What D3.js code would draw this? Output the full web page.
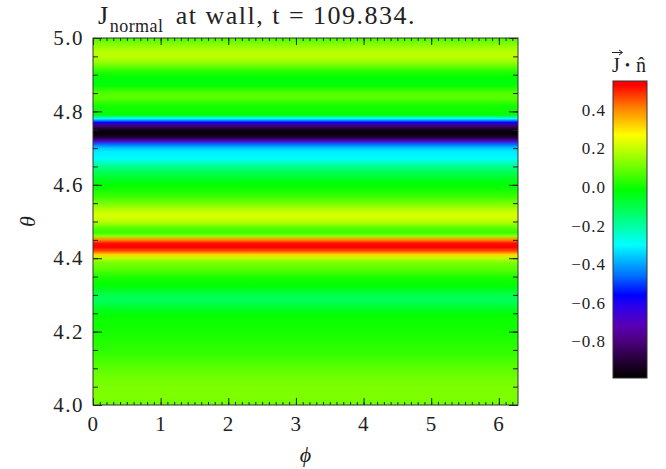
<!DOCTYPE html>
<html>
<head>
<meta charset="utf-8">
<script src="https://cdn.jsdelivr.net/npm/d3@7"></script>
<style>
  body { margin: 0; background: #fff; }
  text { font-family: "Liberation Serif", "DejaVu Serif", serif; fill: #222; }
</style>
</head>
<body>
<svg id="chart" width="666" height="469"></svg>
<script>
// theta samples (rad), read every 0.01 off the picture, top to bottom
var thetaVals = d3.range(0, 101).map(function(i){ return +(5 - i * 0.01).toFixed(2); });
// J.n along theta (flat in phi)
var jnVals = [
  0.06, 0.10, 0.14, 0.17, 0.19, 0.19, 0.17, 0.13, 0.08, 0.03,
  0.00, -0.02, -0.03, -0.01, 0.03, 0.07, 0.08, 0.06, 0.02, 0.00,
  0.00, -0.03, -0.30, -0.58, -0.82, -0.95, -0.98, -0.92, -0.70, -0.46,
  -0.36, -0.32, -0.31, -0.29, -0.23, -0.18, -0.14, -0.10, -0.07, -0.04,
  -0.02, 0.00, 0.02, 0.04, 0.07, 0.11, 0.15, 0.19, 0.22, 0.22,
  0.19, 0.13, 0.07, 0.04, 0.15, 0.40, 0.52, 0.53, 0.46, 0.32,
  0.20, 0.13, 0.10, 0.08, 0.05, 0.02, 0.00, -0.01, -0.03, -0.07,
  -0.10, -0.12, -0.11, -0.08, -0.05, -0.03, -0.01, 0.00, 0.00, 0.00,
  0.01, 0.01, 0.02, 0.02, 0.03, 0.03, 0.04, 0.05, 0.06, 0.07,
  0.08, 0.09, 0.10, 0.11, 0.11, 0.12, 0.12, 0.12, 0.12, 0.11,
  0.10
];
var xTicks = [0, 1, 2, 3, 4, 5, 6];
var yTicks = [4.0, 4.2, 4.4, 4.6, 4.8, 5.0];
var cbTicks = [-0.8, -0.6, -0.4, -0.2, 0.0, 0.2, 0.4];
var jMin = -0.99, jMax = 0.55;

// colour table (IDL rainbow like)
var ctVals = [-0.99, -0.89, -0.80, -0.72, -0.63, -0.56, -0.46, -0.30, -0.145, -0.015, 0.08, 0.27, 0.41, 0.53, 0.55];
var ctCols = ["#000000", "#28003c", "#4b007d", "#5a00b4", "#3200e6", "#0000ff", "#006eff",
              "#00ffff", "#00ff6e", "#00ff00", "#5aff00", "#ffff00", "#ff8200", "#ff0000", "#ff0000"];

var SERIF = "'Liberation Serif', 'DejaVu Serif', serif";

drawChart();

function drawChart(){
    var svg = d3.select("#chart");
    var pLeft = 93, pRight = 518, pTop = 38, pBottom = 405;

    var x = d3.scaleLinear().domain([0, 2 * Math.PI]).range([pLeft, pRight]);
    var y = d3.scaleLinear().domain([4.0, 5.0]).range([pBottom, pTop]);
    var color = d3.scaleLinear().domain(ctVals).range(ctCols).clamp(true);

    var defs = svg.append("defs");

    // field gradient built from the theta profile
    var grad = defs.append("linearGradient").attr("id", "field")
        .attr("gradientUnits", "userSpaceOnUse")
        .attr("x1", 0).attr("x2", 0).attr("y1", pTop).attr("y2", pBottom);
    grad.selectAll("stop").data(thetaVals).enter().append("stop")
        .attr("offset", function(d){ return (y(d) - pTop) / (pBottom - pTop); })
        .attr("stop-color", function(d, i){ return color(jnVals[i]); });

    svg.append("rect")
        .attr("x", x(0)).attr("y", y(5.0))
        .attr("width", x(2 * Math.PI) - x(0)).attr("height", y(4.0) - y(5.0))
        .style("fill", "url(#field)");

    // axes, ticks inward on all four sides
    function styleAxis(g){
        g.attr("font-family", SERIF);
        g.select(".domain").remove();
        g.selectAll("line").attr("stroke", "#222").attr("stroke-width", 1);
        g.selectAll("text").style("font-family", SERIF).style("font-size", "21px")
            .attr("fill", "#222").style("letter-spacing", "1.5px");
    }
    var xMinor = d3.range(0, 63).map(function(i){ return i / 10; });
    var yMinor = d3.range(0, 21).map(function(i){ return 4 + i * 0.05; });

    svg.append("g").attr("transform", "translate(0," + pBottom + ")")
        .call(d3.axisBottom(x).tickValues(xMinor).tickSize(-3).tickFormat("")).call(styleAxis);
    svg.append("g").attr("transform", "translate(0," + pBottom + ")")
        .call(d3.axisBottom(x).tickValues(xTicks).tickSize(-7).tickPadding(11).tickFormat(d3.format("d"))).call(styleAxis);
    svg.append("g").attr("transform", "translate(0," + pTop + ")")
        .call(d3.axisTop(x).tickValues(xMinor).tickSize(-3).tickFormat("")).call(styleAxis);
    svg.append("g").attr("transform", "translate(0," + pTop + ")")
        .call(d3.axisTop(x).tickValues(xTicks).tickSize(-7).tickFormat("")).call(styleAxis);

    svg.append("g").attr("transform", "translate(" + pLeft + ",0)")
        .call(d3.axisLeft(y).tickValues(yMinor).tickSize(-5).tickFormat("")).call(styleAxis);
    svg.append("g").attr("transform", "translate(" + pLeft + ",0)")
        .call(d3.axisLeft(y).tickValues(yTicks).tickSize(-9).tickPadding(9).tickFormat(d3.format(".1f"))).call(styleAxis);
    svg.append("g").attr("transform", "translate(" + pRight + ",0)")
        .call(d3.axisRight(y).tickValues(yMinor).tickSize(-5).tickFormat("")).call(styleAxis);
    svg.append("g").attr("transform", "translate(" + pRight + ",0)")
        .call(d3.axisRight(y).tickValues(yTicks).tickSize(-9).tickFormat("")).call(styleAxis);

    svg.append("rect")
        .attr("x", pLeft).attr("y", pTop).attr("width", pRight - pLeft).attr("height", pBottom - pTop)
        .attr("fill", "none").attr("stroke", "#333").attr("stroke-width", 1);

    // title
    var title = svg.append("text").attr("x", 98).attr("y", 24)
        .style("font-size", "26px").style("letter-spacing", "1.5px");
    title.append("tspan").text("J");
    title.append("tspan").attr("dy", 8).style("font-size", "18px").style("letter-spacing", "0.5px").text("normal");
    title.append("tspan").attr("dy", -8).attr("dx", 4).text(" at wall, t = 109.834.");

    // axis labels
    svg.append("text").attr("x", (pLeft + pRight) / 2).attr("y", 462)
        .attr("text-anchor", "middle").style("font-size", "22px").style("font-style", "italic").text("ϕ");
    svg.append("text").attr("transform", "translate(35," + y(4.5) + ") rotate(-90)")
        .attr("text-anchor", "middle").style("font-size", "22px").style("font-style", "italic").text("θ");

    // colour bar
    var cbLeft = 613, cbRight = 647, cbTop = 81, cbBottom = 378;
    var cb = d3.scaleLinear().domain([jMin, jMax]).range([cbBottom, cbTop]);
    var cbGrad = defs.append("linearGradient").attr("id", "cbar")
        .attr("gradientUnits", "userSpaceOnUse")
        .attr("x1", 0).attr("x2", 0).attr("y1", cbBottom).attr("y2", cbTop);
    cbGrad.selectAll("stop").data(ctVals).enter().append("stop")
        .attr("offset", function(d){ return (cbBottom - cb(d)) / (cbBottom - cbTop); })
        .attr("stop-color", function(d){ return color(d); });
    svg.append("rect")
        .attr("x", cbLeft).attr("y", cbTop).attr("width", cbRight - cbLeft).attr("height", cbBottom - cbTop)
        .style("fill", "url(#cbar)").attr("stroke", "#333").attr("stroke-width", 1);

    svg.append("g").attr("transform", "translate(" + (cbLeft - 1) + ",0)")
        .call(d3.axisLeft(cb).tickValues(cbTicks).tickSize(0).tickPadding(6).tickFormat(d3.format(".1f")))
        .call(function(g){
            g.attr("font-family", SERIF);
            g.select(".domain").remove();
            g.selectAll("text").style("font-family", SERIF).style("font-size", "17px")
                .attr("fill", "#222").style("letter-spacing", "1px");
        });

    // colour bar title J(vec) . n(hat)
    var cbt = svg.append("g").style("font-size", "20px");
    cbt.append("text").attr("x", 612).attr("y", 72).text("J");
    cbt.append("path").attr("d", "M612,52.5H622M619,50L622.5,52.5L619,55")
        .attr("fill", "none").attr("stroke", "#222").attr("stroke-width", 1);
    cbt.append("text").attr("x", 625).attr("y", 70).style("font-size", "14px").text("•");
    cbt.append("text").attr("x", 636).attr("y", 72).text("n\u0302");
}
</script>
</body>
</html>
